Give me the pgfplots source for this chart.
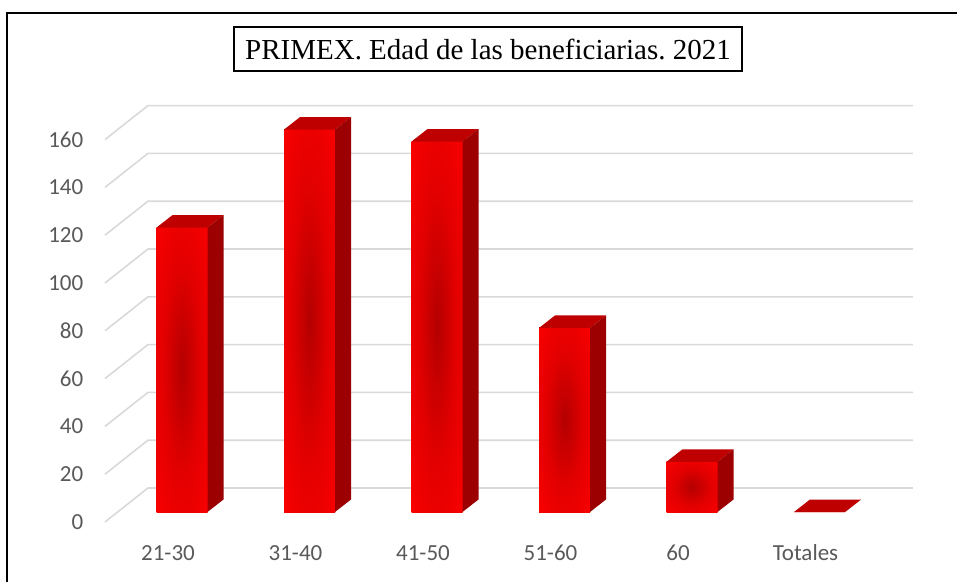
\documentclass[border=0pt]{standalone}
\usepackage{pgfplots}
\pgfplotsset{compat=1.18}
\usepackage{fontspec}
\setmainfont{Liberation Serif}
\newfontfamily\calibri{Carlito}

\definecolor{tickgray}{RGB}{89,89,89}
\definecolor{gridc}{RGB}{217,217,217}
\definecolor{topred}{RGB}{190,0,0}
\definecolor{sidered}{RGB}{156,0,0}
\definecolor{frontdark}{RGB}{180,0,0}
\definecolor{frontmid}{RGB}{226,0,0}
\pgfdeclareradialshading{barshade}{\pgfpoint{0bp}{0bp}}{color(0bp)=(frontdark); color(18bp)=(frontmid); color(40bp)=(red); color(50bp)=(red)}

% front shading, top and side face of a bar, drawn at each data point
\pgfdeclareplotmark{barbox}{%
  \pgfmathsetmacro\hh{\rawy*2.39}%
  \ifdim\hh pt>1pt
    \shade[shading=barshade, draw=none] (-25.5pt,0pt) rectangle (25.5pt,-\hh pt);
  \fi
  \fill[topred, draw=none] (-25.5pt,0pt) -- (-9.5pt,12.5pt) -- (41.5pt,12.5pt) -- (25.5pt,0pt) -- cycle;
  \fill[sidered, draw=none] (25.5pt,0pt) -- (41.5pt,12.5pt) -- (41.5pt,12.5pt-\hh pt) -- (25.5pt,-\hh pt) -- cycle;
}

\begin{document}
\frenchspacing
\begin{tikzpicture}
\path[use as bounding box] (-105.5pt,-45.1pt) rectangle (851.5pt,535.9pt);
\begin{axis}[
  x=127.5pt, y=2.39pt,
  xmin=-0.6, xmax=5.8, ymin=-10, ymax=175,
  enlargelimits=false, clip=false,
  axis line style={draw=none}, major tick length=0pt,
  xtick={0,...,5}, xticklabels={21-30,31-40,41-50,51-60,60,Totales},
  ytick={0,20,...,160},
  ticklabel style={font=\calibri\fontsize{23}{23}\selectfont, text=tickgray, inner sep=0pt},
  yticklabel style={anchor=east, xshift=-22pt, yshift=-10pt},
  xticklabel style={anchor=base, xshift=-14pt, yshift=-25pt},
  /pgf/number format/assume math mode=true,
]
% gridlines: side wall then back wall
\addplot[gridc, line width=1.6pt, line join=round, forget plot] coordinates {(-0.604,-4.18) (-0.267,10.04) (5.733,10.04)};
\addplot[gridc, line width=1.6pt, line join=round, forget plot] coordinates {(-0.604,15.82) (-0.267,30.04) (5.733,30.04)};
\addplot[gridc, line width=1.6pt, line join=round, forget plot] coordinates {(-0.604,35.82) (-0.267,50.04) (5.733,50.04)};
\addplot[gridc, line width=1.6pt, line join=round, forget plot] coordinates {(-0.604,55.82) (-0.267,70.04) (5.733,70.04)};
\addplot[gridc, line width=1.6pt, line join=round, forget plot] coordinates {(-0.604,75.82) (-0.267,90.04) (5.733,90.04)};
\addplot[gridc, line width=1.6pt, line join=round, forget plot] coordinates {(-0.604,95.82) (-0.267,110.04) (5.733,110.04)};
\addplot[gridc, line width=1.6pt, line join=round, forget plot] coordinates {(-0.604,115.82) (-0.267,130.04) (5.733,130.04)};
\addplot[gridc, line width=1.6pt, line join=round, forget plot] coordinates {(-0.604,135.82) (-0.267,150.04) (5.733,150.04)};
\addplot[gridc, line width=1.6pt, line join=round, forget plot] coordinates {(-0.604,155.82) (-0.267,170.04) (5.733,170.04)};

\addplot[ybar, bar width=51pt, fill=red, draw=none]
  coordinates {(0,119) (1,160) (2,155) (3,77) (4,21) (5,0)};
\addplot[only marks, mark=barbox, mark options={draw=none}, visualization depends on={rawy \as \rawy}]
  coordinates {(0,119) (1,160) (2,155) (3,77) (4,21) (5,0)};
\end{axis}
\draw[line width=2pt] (-98.5pt,-60pt) -- (-98.5pt,522.9pt) -- (870pt,522.9pt);
\node[draw, line width=1.2pt, minimum width=508pt, minimum height=44pt,
      text height=22pt, text depth=0pt, inner sep=0pt,
      font=\fontsize{29}{29}\selectfont] at (382.5pt,486.9pt)
  {PRIMEX. Edad de las beneficiarias. 2021};
\end{tikzpicture}
\end{document}
